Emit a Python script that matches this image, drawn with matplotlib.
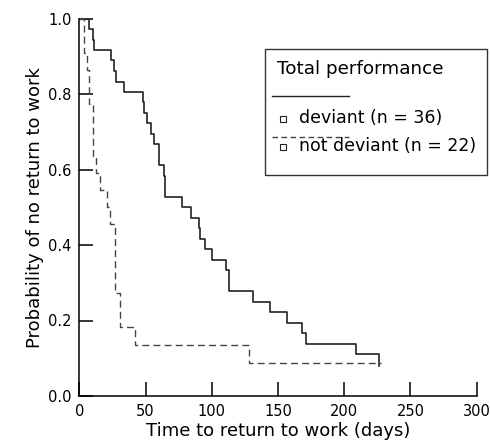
import matplotlib
matplotlib.use("Agg")
import matplotlib.pyplot as plt
from matplotlib.patches import Rectangle
from matplotlib.lines import Line2D

plt.rcParams['font.family'] = ['DejaVu Sans']

# Kaplan-Meier curves
deviant_days = [0, 7, 10, 11, 24, 26, 27.5, 33.5, 48, 48.6, 51.1, 53.9, 56.6, 59.9, 63.6,
                64.4, 77.5, 84.4, 90, 91.2, 95, 100, 111, 113, 131.5, 144, 157, 168, 171,
                209, 226]
deviant_surv = [1.0, 0.972, 0.944, 0.917, 0.889, 0.861, 0.833, 0.806, 0.778, 0.750, 0.722,
                0.694, 0.667, 0.611, 0.583, 0.528, 0.500, 0.472, 0.444, 0.417, 0.389, 0.361,
                0.333, 0.278, 0.250, 0.222, 0.194, 0.167, 0.139, 0.111, 0.080]

notdev_days = [0, 3.3, 5.6, 7, 10.3, 12.8, 15.3, 21, 22.8, 26.6, 30.6, 42.4, 128, 228]
notdev_surv = [1.0, 0.909, 0.864, 0.773, 0.636, 0.591, 0.545, 0.500, 0.455, 0.273, 0.182,
               0.136, 0.088, 0.088]

xticks = [0, 50, 100, 150, 200, 250, 300]
yticks = [0.0, 0.2, 0.4, 0.6, 0.8, 1.0]
xlabel = "Time to return to work (days)"
ylabel = "Probability of no return to work"
legend_title = "Total performance"
legend_labels = ["deviant (n = 36)", "not deviant (n = 22)"]

W, H = 490, 446
fig = plt.figure(figsize=(W / 100, H / 100), dpi=100)
ax = fig.add_axes([79.3 / W, 1 - 396 / H, (476.7 - 79.3) / W, (396 - 18.5) / H])

ax.step(deviant_days, deviant_surv, where='post', color='#222222', lw=1.2)
ax.step(notdev_days, notdev_surv, where='post', color='#444444', lw=1.0,
        linestyle=(0, (5, 3)))

ax.set_xlim(0, 300)
ax.set_ylim(0, 1.0)
ax.set_xticks(xticks)
ax.set_yticks(yticks)
ax.set_yticklabels([f"{v:.1f}" for v in yticks])
for s in ['top', 'right']:
    ax.spines[s].set_visible(False)
for s in ['left', 'bottom']:
    ax.spines[s].set_linewidth(1.1)
ax.tick_params(direction='in', length=10, width=1.1, labelsize=10.5)
ax.tick_params(axis='x', pad=6)
ax.tick_params(axis='y', pad=5.5)
ax.set_xlabel(xlabel, fontsize=13, labelpad=2)
ax.set_ylabel(ylabel, fontsize=13, labelpad=3)

# legend box (drawn manually in figure pixel coordinates)
def fx(x):
    return x / W

def fy(y):
    return 1 - y / H

fig.patches.append(Rectangle((fx(265), fy(175)), fx(487) - fx(265), fy(49) - fy(175),
                             transform=fig.transFigure, fill=False, lw=1.0,
                             edgecolor='#333333'))
fig.text(fx(277), fy(69), legend_title, fontsize=13.2, va='center', ha='left')
fig.lines.append(Line2D([fx(272), fx(349)], [fy(95.7), fy(95.7)], transform=fig.transFigure,
                        color='#222222', lw=1.0))
fig.lines.append(Line2D([fx(272), fx(349)], [fy(136.7), fy(136.7)], transform=fig.transFigure,
                        color='#444444', lw=1.0, linestyle=(0, (4, 2.5))))
for lab, yc in zip(legend_labels, [118, 146]):
    fig.lines.append(Line2D([fx(283.3)], [fy(yc + 1)], transform=fig.transFigure,
                            marker='s', markersize=5, mfc='none', mec='#222222', mew=0.8,
                            linestyle='none'))
    fig.text(fx(299), fy(yc), lab, fontsize=12.5, va='center', ha='left')

fig.savefig("out.png", dpi=100)
